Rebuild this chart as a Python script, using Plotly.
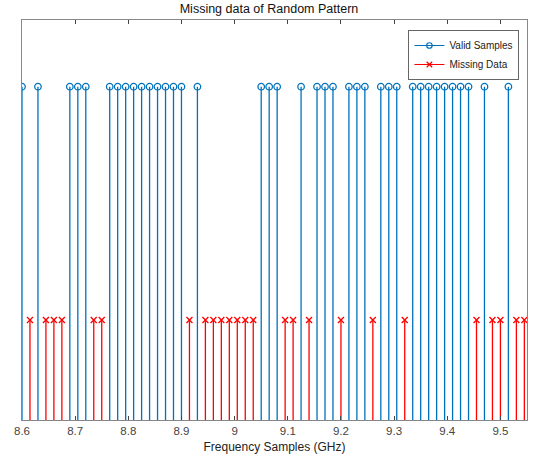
import plotly.graph_objects as go

valid_freq = [8.600, 8.630, 8.690, 8.705, 8.720, 8.765, 8.780, 8.795, 8.810, 8.825,
              8.840, 8.855, 8.870, 8.885, 8.900, 8.930, 9.050, 9.065, 9.080, 9.125,
              9.155, 9.170, 9.185, 9.215, 9.230, 9.245, 9.275, 9.290, 9.305, 9.335,
              9.350, 9.365, 9.380, 9.395, 9.410, 9.425, 9.440, 9.470, 9.515]
valid_val = [1.0] * len(valid_freq)

missing_freq = [8.615, 8.645, 8.660, 8.675, 8.735, 8.750, 8.915, 8.945, 8.960, 8.975,
                8.990, 9.005, 9.020, 9.035, 9.095, 9.110, 9.140, 9.200, 9.260, 9.320,
                9.455, 9.485, 9.500, 9.530, 9.545]
missing_val = [0.3] * len(missing_freq)

tick_vals = [8.6, 8.7, 8.8, 8.9, 9.0, 9.1, 9.2, 9.3, 9.4, 9.5]
tick_text = ["8.6", "8.7", "8.8", "8.9", "9", "9.1", "9.2", "9.3", "9.4", "9.5"]

BLUE = "#0072BD"
RED = "#FF0000"


def stems(xs, ys):
    sx, sy = [], []
    for x, y in zip(xs, ys):
        sx += [x, x, None]
        sy += [0, y, None]
    return sx, sy


fig = go.Figure()
for xs, ys, col, sym, msize, name in [
        (valid_freq, valid_val, BLUE, "circle-open", 6.5, "Valid Samples"),
        (missing_freq, missing_val, RED, "x-thin-open", 6, "Missing Data")]:
    sx, sy = stems(xs, ys)
    fig.add_trace(go.Scatter(x=sx, y=sy, mode="lines", line=dict(color=col, width=1.3),
                             showlegend=False, hoverinfo="skip"))
    fig.add_trace(go.Scatter(x=xs, y=ys, mode="markers",
                             marker=dict(symbol=sym, size=msize, color=col,
                                         line=dict(color=col, width=1.3)),
                             showlegend=False))
    fig.add_trace(go.Scatter(x=[None], y=[None], mode="lines+markers", name=name,
                             line=dict(color=col, width=1.2),
                             marker=dict(symbol=sym, size=5.5, color=col,
                                         line=dict(color=col, width=1.2))))

fig.update_layout(
    width=538, height=460,
    margin=dict(l=22, r=11, t=20, b=40, autoexpand=False),
    paper_bgcolor="white", plot_bgcolor="white",
    font=dict(family="Liberation Sans, Arial, sans-serif", size=11, color="#262626"),
    title=dict(text="Missing data of Random Pattern", x=0.5, xanchor="center",
               y=1 - 9 / 460, yanchor="middle", font=dict(size=12.5, color="#111")),
    xaxis=dict(range=[8.6, 9.55], tickvals=tick_vals, ticktext=tick_text,
               ticks="inside", ticklen=4, tickcolor="#444", showline=True,
               linecolor="#888", linewidth=1, mirror="ticks", showgrid=False,
               zeroline=False, automargin=False, tickfont=dict(size=11.5, color="#444"),
               title=dict(text="Frequency Samples (GHz)", standoff=6,
                          font=dict(size=12, color="#222"))),
    yaxis=dict(range=[0, 1.2], showticklabels=False, ticks="", showline=True,
               linecolor="#888", linewidth=1, mirror=True, showgrid=False,
               zeroline=False, automargin=False),
    legend=dict(x=0.985, y=0.975, xanchor="right", yanchor="top",
                bgcolor="white", bordercolor="#666", borderwidth=1,
                font=dict(size=10, color="#222"), tracegroupgap=0,
                itemwidth=30),
)

fig.write_html("out.html", config={"displayModeBar": False},
               post_script="document.body.style.margin='0';document.body.style.padding='0';")
